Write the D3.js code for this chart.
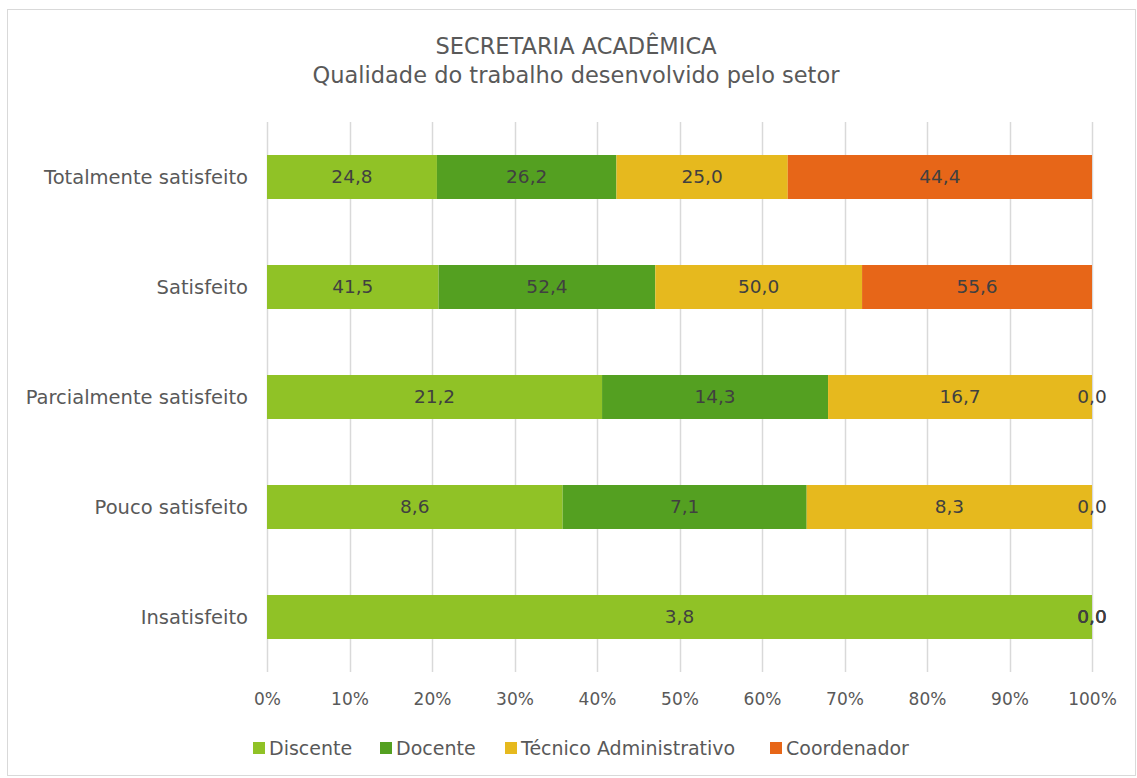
<!DOCTYPE html>
<meta charset="utf-8">
<style>
body { margin: 0; background: #fff; }
text { font-family: 'DejaVu Sans', sans-serif; }
</style>
<script src="https://d3js.org/d3.v7.min.js"></script>
<div id="chart"></div>
<script>
// categories, top to bottom
var categories = ["Totalmente satisfeito", "Satisfeito", "Parcialmente satisfeito", "Pouco satisfeito", "Insatisfeito"];
var seriesNames = ["Discente", "Docente", "Técnico Administrativo", "Coordenador"];
// values per series (percent), one per category
var discente = [24.8, 41.5, 21.2, 8.6, 3.8];
var docente = [26.2, 52.4, 14.3, 7.1, 0.0];
var tecnico = [25.0, 50.0, 16.7, 8.3, 0.0];
var coordenador = [44.4, 55.6, 0.0, 0.0, 0.0];
var colors = ["#90C226", "#54A021", "#E6B91E", "#E76618"];
var tickValues = [0, .1, .2, .3, .4, .5, .6, .7, .8, .9, 1];

var W = 1137, H = 778;
var margin = {top: 122, right: 45, bottom: 106, left: 267};

var svg = d3.select("#chart").append("svg")
    .attr("width", W).attr("height", H);

// chart border
svg.append("rect")
    .attr("x", 7.5).attr("y", 9.5)
    .attr("width", W - 9).attr("height", H - 12)
    .attr("fill", "none").attr("stroke", "#d9d9d9");

// titles
svg.append("text").attr("x", 576).attr("y", 54)
    .attr("text-anchor", "middle").style("font-size", "22.5px").style("fill", "#595959")
    .text("SECRETARIA ACADÊMICA");
svg.append("text").attr("x", 576).attr("y", 83)
    .attr("text-anchor", "middle").style("font-size", "22.5px").style("fill", "#595959")
    .text("Qualidade do trabalho desenvolvido pelo setor");

var table = categories.map(function(c, i) {
    return {cat: c, Discente: discente[i], Docente: docente[i],
            "Técnico Administrativo": tecnico[i], Coordenador: coordenador[i]};
});

var stack = d3.stack().keys(seriesNames).offset(d3.stackOffsetExpand);
var layers = stack(table);

var x = d3.scaleLinear().domain([0, 1]).range([margin.left, W - margin.right]);
var y = d3.scaleBand().domain(categories)
    .range([margin.top, H - margin.bottom])
    .paddingInner(0.6).paddingOuter(0.3);

// gridlines
svg.append("g").selectAll("line").data(tickValues).enter().append("line")
    .attr("x1", function(d) { return Math.round(x(d)) + 0.5; })
    .attr("x2", function(d) { return Math.round(x(d)) + 0.5; })
    .attr("y1", margin.top).attr("y2", H - margin.bottom)
    .attr("stroke", "#d9d9d9").attr("stroke-width", 1.5);

// bars
var g = svg.append("g").selectAll("g").data(layers).enter().append("g")
    .attr("fill", function(d, i) { return colors[i]; });

g.selectAll("rect").data(function(d) { return d; }).enter().append("rect")
    .attr("x", function(d) { return x(d[0]); })
    .attr("width", function(d) { return x(d[1]) - x(d[0]); })
    .attr("y", function(d) { return y(d.data.cat); })
    .attr("height", y.bandwidth());

// value labels
var fmt = function(v) { return v.toFixed(1).replace(".", ","); };
svg.append("g").selectAll("g").data(layers).enter().append("g")
    .each(function(layer) {
        d3.select(this).selectAll("text").data(layer).enter().append("text")
            .attr("x", function(d) { return (x(d[0]) + x(d[1])) / 2; })
            .attr("y", function(d) { return y(d.data.cat) + y.bandwidth() / 2; })
            .attr("dy", "0.35em")
            .attr("text-anchor", "middle")
            .style("font-size", "18.5px").style("fill", "#404040")
            .text(function(d) { return fmt(d.data[layer.key]); });
    });

// category axis
svg.append("g").selectAll("text").data(categories).enter().append("text")
    .attr("x", 248)
    .attr("y", function(d) { return y(d) + y.bandwidth() / 2; })
    .attr("dy", "0.35em").attr("text-anchor", "end")
    .style("font-size", "19.5px").style("fill", "#595959")
    .text(function(d) { return d; });

// x axis
var xAxis = svg.append("g")
    .attr("transform", "translate(0," + (H - margin.bottom) + ")")
    .call(d3.axisBottom(x).tickValues(tickValues).tickFormat(d3.format(".0%")).tickSize(0).tickPadding(21));
xAxis.select(".domain").remove();
xAxis.selectAll("text").style("font-size", "17px").style("fill", "#595959")
    .style("font-family", "'DejaVu Sans', sans-serif");

// legend
var legendX = [253, 380, 505, 770];
var legend = svg.append("g").selectAll("g").data(seriesNames).enter().append("g")
    .attr("transform", function(d, i) { return "translate(" + legendX[i] + ",748)"; });
legend.append("rect").attr("x", 0).attr("y", -6).attr("width", 12).attr("height", 12)
    .attr("fill", function(d, i) { return colors[i]; });
legend.append("text").attr("x", 16).attr("dy", "0.35em")
    .style("font-size", "19px").style("fill", "#595959")
    .text(function(d) { return d; });
</script>
